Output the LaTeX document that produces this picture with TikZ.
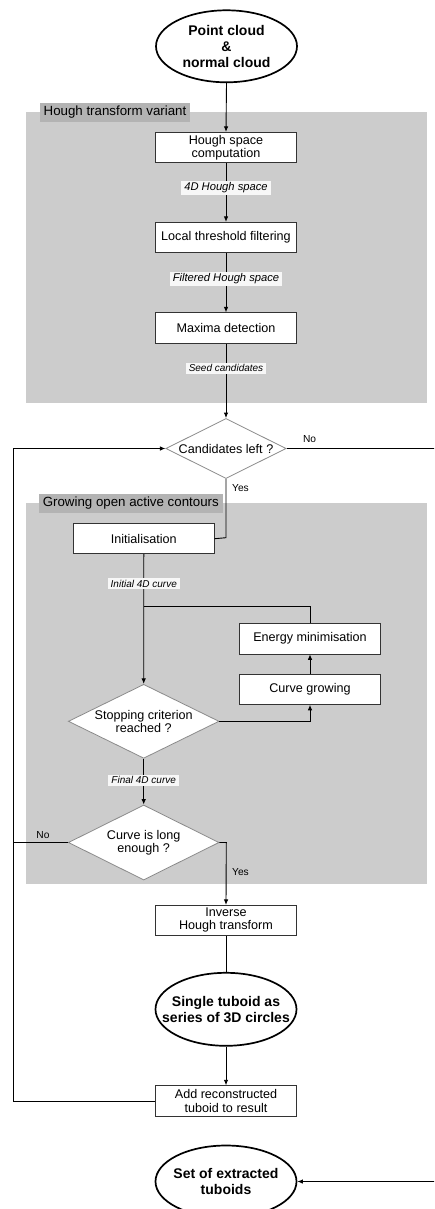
\documentclass[tikz,border=0pt]{standalone}
\usepackage{fontspec}
\setmainfont{Liberation Sans}
\usetikzlibrary{shapes.geometric,arrows.meta}

\definecolor{regionfill}{HTML}{CCCCCC}
\definecolor{titlefill}{HTML}{B3B3B3}
\definecolor{boxline}{HTML}{333333}
\definecolor{diamline}{HTML}{8A8A8A}
\definecolor{tagfill}{HTML}{F7F7F7}

\begin{document}
\begin{tikzpicture}[x=1pt,y=-1pt,
  flow/.style={line width=0.9pt, draw=black},
  arr/.style={flow, -{Latex[length=5.5pt,width=4.5pt]}},
  stepbox/.style={draw=boxline, line width=0.8pt, fill=white,
    minimum width=140.6pt, minimum height=30.4pt, inner sep=0pt,
    align=center, font=\fontsize{12.6}{13.3}\selectfont},
  term/.style={ellipse, draw=black, line width=1.7pt, fill=white,
    minimum width=141pt, minimum height=72pt, inner sep=0pt},
  termtext/.style={align=center, font=\bfseries\fontsize{14}{15.7}\selectfont},
  decision/.style={diamond, draw=diamline, line width=0.8pt, fill=white, inner sep=0pt},
  dectext/.style={align=center, font=\fontsize{12.6}{13.5}\selectfont},
  tag/.style={fill=tagfill, inner xsep=3pt, inner ysep=1.8pt,
    font=\itshape\fontsize{11.2}{12}\selectfont},
  smalltag/.style={tag, font=\itshape\fontsize{10}{11}\selectfont},
  answer/.style={inner sep=0pt, font=\fontsize{10.2}{11}\selectfont},
  grouptitle/.style={fill=titlefill, inner xsep=3.8pt, inner ysep=0pt,
    minimum height=19pt, font=\fontsize{13.3}{14}\selectfont},
]
\useasboundingbox (0,0) rectangle (434,1209);
\clip (0,0) rectangle (434,1209);

% grey group backgrounds
\fill[regionfill] (25.5,112.3) rectangle (427,402.8);
\fill[regionfill] (25.5,503.3) rectangle (427,884.3);
\node[grouptitle] (gHough) at (115,112.2) {Hough transform variant};
\node[grouptitle] (gGrow) at (130.8,503.5) {Growing open active contours};

% nodes
\node[term, label={[termtext]center:Point cloud\\\&\\normal cloud}] (src) at (226.5,46.3) {};
\node[stepbox] (hsc) at (226,147.5) {Hough space\\computation};
\node[stepbox] (ltf) at (226,237.5) {Local threshold filtering};
\node[stepbox] (maxd) at (226,328) {Maxima detection};
\node[decision, minimum width=120.3pt, minimum height=60pt,
  label={[dectext]center:Candidates left ?}] (cand) at (226,448.5) {};
\node[stepbox, minimum width=141pt, minimum height=30pt] (init) at (143.8,538.7) {Initialisation};
\node[stepbox] (energy) at (310,638.7) {Energy minimisation};
\node[stepbox] (grow) at (310,689.2) {Curve growing};
\node[decision, minimum width=150.7pt, minimum height=74pt,
  label={[dectext]center:Stopping criterion\\reached ?}] (stop) at (143.7,721.3) {};
\node[decision, minimum width=150.7pt, minimum height=75pt,
  label={[dectext]center:Curve is long\\enough ?}] (long) at (143.7,842.5) {};
\node[stepbox, minimum height=30pt] (inv) at (226,920.3) {Inverse\\Hough transform};
\node[term, minimum height=73pt,
  label={[termtext]center:Single tuboid as\\series of 3D circles}] (single) at (226,1009.3) {};
\node[stepbox, minimum height=30.6pt] (add) at (226,1101) {Add reconstructed\\tuboid to result};
\node[term, label={[termtext]center:Set of extracted\\tuboids}] (set) at (226,1181.5) {};

% free corners of the connectors
\coordinate (noRight) at (445,448.5);
\coordinate (noDown) at (445,1181.5);
\coordinate (yesBend) at (226,537.7);
\coordinate (loopTop) at (310,606.7);
\coordinate (loopJoin) at (143.7,606.7);
\coordinate (growBend) at (310,721.3);
\coordinate (yesBend2) at (226.3,842.5);
\coordinate (leftLow) at (13.7,1101);
\coordinate (leftHigh) at (13.7,448.5);
\coordinate (leftMid) at (13.7,842.5);

% main chain
\draw[arr] (src.south) -- (hsc.north);
\draw[arr] (hsc.south) -- node[tag, pos=0.42] (t1) {4D Hough space} (ltf.north);
\draw[arr] (ltf.south) -- node[tag, pos=0.43] (t2) {Filtered Hough space} (maxd.north);
\draw[arr] (maxd.south) -- node[smalltag, pos=0.33] (t3) {Seed candidates} (cand.north);

% candidate test
\draw[arr] (cand.east) -- (noRight) -- (noDown) -- (set.east);
\path (cand.east) ++(23,-9.2) node[answer] (no1) {No};
\draw[flow] (cand.south) -- (yesBend) -- (init.east);
\path (cand.south) ++(14.5,9.2) node[answer] (yes1) {Yes};

% active contour loop
\draw[arr] (init.south) -- node[smalltag, pos=0.227] (t4) {Initial 4D curve} (stop.north);
\draw[flow] (energy.north) -- (loopTop) -- (loopJoin);
\draw[arr] (stop.east) -- (growBend) -- (grow.south);
\draw[arr] (grow.north) -- (energy.south);
\draw[arr] (stop.south) -- node[smalltag, pos=0.465] (t5) {Final 4D curve} (long.north);

% length test
\draw[arr] (long.east) -- (yesBend2) -- (inv.north);
\path (yesBend2) ++(14.2,29.8) node[answer] (yes2) {Yes};
\draw[flow] (long.west) -- (leftMid);
\path (long.west) ++(-25,-7.5) node[answer] (no2) {No};

% reconstruction and return loop
\draw[flow] (inv.south) -- (single.north);
\draw[arr] (single.south) -- (add.north);
\draw[arr] (add.west) -- (leftLow) -- (leftHigh) -- (cand.west);
\end{tikzpicture}
\end{document}
